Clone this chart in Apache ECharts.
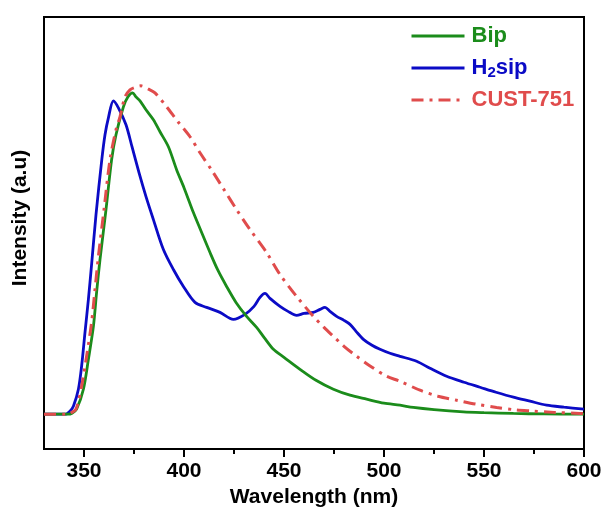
<!DOCTYPE html>
<html>
<head>
<meta charset="utf-8">
<script src="https://cdn.jsdelivr.net/npm/echarts@6/dist/echarts.min.js"></script>
<style>html,body{margin:0;padding:0;background:#fff;}#c{width:605px;height:513px;}</style>
</head>
<body>
<div id="c"></div>
<script>
// Wavelength (nm) and intensity (arbitrary units)
const bipWl  = [330,342,344,346.3,349.7,352.2,354.7,356.3,358,361,363.8,366,369.7,372,374.3,376,378,381,384.7,388,392.2,396.3,400,404.7,408,413,417,421.3,426,431.3,436.3,440,444.7,450,458,466,474.7,483,491.3,500,508,514.7,525,539.7,550,564.7,580,600];
const bipInt = [0,0,1,5,25,55,88,122,155,205,255,280,308,318,322,318,314,305,295,283,268,245,227,202,186,162,144,128,112,98,87,77,65,57,45,34,25,19,15,11,9,6.7,4.5,2.3,1.5,0.7,0.2,0];

const h2sipWl  = [330,341,343,344.7,347.2,348.8,350.5,352.2,353.8,356,358.9,360.5,362.2,364.7,367.2,371,374,377.5,381,384.7,389.7,394.7,399.7,405.5,411.3,418,424.7,430.5,435,438,440.5,443,448,452,456.3,460,464.7,468,470.5,473,476.3,480,483,486,489.7,494,498,503,508,516.3,523,531.3,540,548,556,564.7,573,581.3,590,600];
const h2sipInt = [0,0,3,8,25,48,82,115,150,200,255,280,297,314,307,290,268,242,218,195,165,145,128,112,107,102,95,100,108,117,121,116,108,103,99,101,102,105,107,103,98,94,90,83,75,69,65,61,58,53,46,38,32,27,22,17,13,9,7,5];

const custWl  = [330,341,343,346,348.8,351.3,353.8,355.5,357.2,360,363,366,368,370.5,373,375,378.5,382,385.5,391.3,397,403,408,414,420,426.3,433,441.3,448,456.3,464.7,470,474.7,480,486.3,494,501.3,508,518,527,536.3,546,556.3,565,573,585,598,600];
const custInt = [0,0,1,5,28,58,92,125,158,205,255,285,298,318,325,327,329,326,322,308,293,278,262,244,225,205,185,162,140,118,98,87,78,68,58,47,38,33,24,18,14,10,6.7,4.5,3.3,1.8,0.7,0.5];

const seriesNames = ['Bip', 'H2sip', 'CUST-751'];
const xMajorTicks = [350, 400, 450, 500, 550, 600];
const xMinorTicks = [375, 425, 475, 525, 575];

const GREEN = '#1b8c1b', BLUE = '#0b0bc6', RED = '#e04c4c';
const FONT = '"Liberation Sans", Arial, sans-serif';

function pairs(xs, ys) { return xs.map((x, i) => [x, ys[i]]); }

const chart = echarts.init(document.getElementById('c'), null, {renderer: 'canvas'});
chart.setOption({
  animation: false,
  backgroundColor: '#fff',
  grid: {left: 44, right: 21, top: 17, bottom: 63, show: true, borderColor: '#000', borderWidth: 2},
  legend: {
    orient: 'vertical', left: 405, top: 20,
    itemWidth: 53, itemHeight: 22, itemGap: 9,
    data: seriesNames,
    itemStyle: {opacity: 0},
    lineStyle: {width: 3},
    formatter: function (n) {
      if (n === 'Bip') return '{g|Bip}';
      if (n === 'H2sip') return '{b|H}{bs|2}{b|sip}';
      return '{r|CUST-751}';
    },
    textStyle: {
      fontFamily: FONT, fontWeight: 'bold', fontSize: 22, padding: [0, 0, 0, 2],
      rich: {
        g: {color: GREEN, fontFamily: FONT, fontWeight: 'bold', fontSize: 22, lineHeight: 22},
        b: {color: BLUE, fontFamily: FONT, fontWeight: 'bold', fontSize: 22, lineHeight: 22},
        bs: {color: BLUE, fontFamily: FONT, fontWeight: 'bold', fontSize: 15, lineHeight: 22, padding: [9, 0, 0, 0]},
        r: {color: RED, fontFamily: FONT, fontWeight: 'bold', fontSize: 22, lineHeight: 22}
      }
    }
  },
  xAxis: [{
    type: 'value', min: 330, max: 600,
    position: 'bottom',
    name: 'Wavelength (nm)', nameLocation: 'middle', nameGap: 35,
    nameTextStyle: {fontFamily: FONT, fontWeight: 'bold', fontSize: 21, color: '#000'},
    axisLine: {show: true, onZero: false, lineStyle: {color: '#000', width: 2}},
    axisTick: {show: true, length: 8, lineStyle: {color: '#000', width: 2}, customValues: xMajorTicks},
    axisLabel: {show: true, margin: 12, fontFamily: FONT, fontWeight: 'bold', fontSize: 21, color: '#000', customValues: xMajorTicks},
    splitLine: {show: false}
  }, {
    type: 'value', min: 330, max: 600,
    position: 'bottom',
    axisLine: {show: false, onZero: false},
    axisTick: {show: true, length: 5, lineStyle: {color: '#000', width: 2}, customValues: xMinorTicks},
    axisLabel: {show: false},
    splitLine: {show: false}
  }],
  yAxis: {
    type: 'value', min: -35, max: 398,
    axisLine: {show: true, onZero: false, lineStyle: {color: '#000', width: 2}},
    axisTick: {show: false},
    axisLabel: {show: false},
    splitLine: {show: false}
  },
  graphic: [{
    type: 'text', x: 20, y: 218, rotation: Math.PI / 2,
    style: {text: 'Intensity (a.u)', fontFamily: FONT, fontWeight: 'bold', fontSize: 21, fill: '#000', align: 'center', verticalAlign: 'middle'}
  }],
  series: [
    {name: 'Bip', type: 'line', data: pairs(bipWl, bipInt), symbol: 'none', smooth: 0.3, color: GREEN,
     lineStyle: {color: GREEN, width: 2.8}, z: 3},
    {name: 'H2sip', type: 'line', data: pairs(h2sipWl, h2sipInt), symbol: 'none', smooth: 0.3, color: BLUE,
     lineStyle: {color: BLUE, width: 2.8}, z: 2},
    {name: 'CUST-751', type: 'line', data: pairs(custWl, custInt), symbol: 'none', smooth: 0.3, color: RED,
     lineStyle: {color: RED, width: 3, type: [12, 6, 3, 6]}, z: 4}
  ]
});
</script>
</body>
</html>
